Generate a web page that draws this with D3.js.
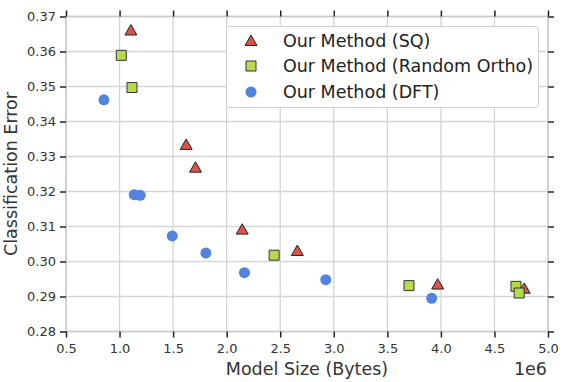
<!DOCTYPE html>
<html><head><meta charset="utf-8">
<script src="https://cdn.jsdelivr.net/npm/d3@7"></script>
<style>body{margin:0;background:#fff}text{font-family:"DejaVu Sans",sans-serif}</style>
</head><body><svg id="c" width="562" height="382"></svg>
<script>
const seriesNames = ["Our Method (SQ)", "Our Method (Random Ortho)", "Our Method (DFT)"];
const sqX = [1.106, 1.622, 1.709, 2.145, 2.660, 3.970, 4.778];
const sqY = [0.3660, 0.3333, 0.3268, 0.3091, 0.3030, 0.2934, 0.2922];
const roX = [1.016, 1.116, 2.443, 3.702, 4.701, 4.731];
const roY = [0.3589, 0.3497, 0.3018, 0.2931, 0.2929, 0.2910];
const dftX = [0.854, 1.137, 1.193, 1.492, 1.806, 2.166, 2.925, 3.914];
const dftY = [0.3462, 0.3191, 0.3189, 0.3073, 0.3024, 0.2968, 0.2948, 0.2895];
const xTicks = [0.5,1.0,1.5,2.0,2.5,3.0,3.5,4.0,4.5,5.0];
const yTicks = [0.28,0.29,0.30,0.31,0.32,0.33,0.34,0.35,0.36,0.37];

const svg = d3.select("#c");
const L=66, R=548, T=16.5, B=331.5;
const x = d3.scaleLinear().domain([0.5,5.0]).range([L,R]);
const y = d3.scaleLinear().domain([0.28,0.37]).range([B,T]);
const grid="#d5d5d5";
svg.append("g").selectAll("line").data(xTicks).join("line")
  .attr("x1",d=>x(d)).attr("x2",d=>x(d)).attr("y1",T).attr("y2",B).attr("stroke",grid).attr("stroke-width",1.3);
svg.append("g").selectAll("line").data(yTicks).join("line")
  .attr("y1",d=>y(d)).attr("y2",d=>y(d)).attr("x1",L).attr("x2",R).attr("stroke",grid).attr("stroke-width",1.3);
svg.append("rect").attr("x",L).attr("y",T).attr("width",R-L).attr("height",B-T).attr("fill","none").attr("stroke","#cccccc").attr("stroke-width",1.5);
const fmt1=d3.format(".1f"), fmt2=d3.format(".2f");
function styleAxis(g){g.select(".domain").remove();g.selectAll(".tick line").attr("stroke","#222").attr("stroke-width",1.5);
  g.selectAll(".tick text").attr("fill","#333").style("font-size","13px").style("font-family","DejaVu Sans");}
svg.append("g").attr("transform",`translate(0,${B})`).call(d3.axisBottom(x).tickValues(xTicks).tickFormat(fmt1).tickSize(6).tickPadding(6)).call(styleAxis);
svg.append("g").attr("transform",`translate(0,${T})`).call(d3.axisTop(x).tickValues(xTicks).tickFormat("").tickSize(6)).call(styleAxis);
svg.append("g").attr("transform",`translate(${L},0)`).call(d3.axisLeft(y).tickValues(yTicks).tickFormat(fmt2).tickSize(6).tickPadding(4)).call(styleAxis);
svg.append("g").attr("transform",`translate(${R},0)`).call(d3.axisRight(y).tickValues(yTicks).tickFormat("").tickSize(6)).call(styleAxis);
svg.append("text").attr("x",(L+R)/2).attr("y",375).attr("text-anchor","middle").attr("fill","#333").style("font-size","17.5px").text("Model Size (Bytes)");
svg.append("text").attr("x",547).attr("y",375).attr("text-anchor","end").attr("fill","#333").style("font-size","17.5px").text("1e6");
svg.append("text").attr("transform",`translate(16.5,${(T+B)/2}) rotate(-90)`).attr("text-anchor","middle").attr("fill","#333").style("font-size","17.5px").text("Classification Error");

const colors=["#dc5449","#b6da4c","#5283e0"];
const tri = d3.symbol().type(d3.symbolTriangle).size(62);
const sq = d3.symbol().type(d3.symbolSquare).size(100);
const pts=(xs,ys)=>xs.map((v,i)=>[v,ys[i]]);
svg.append("g").selectAll("path").data(pts(sqX,sqY)).join("path").attr("d",tri)
  .attr("transform",d=>`translate(${x(d[0])},${y(d[1])+1})`).attr("fill",colors[0]).attr("stroke","#222").attr("stroke-width",1);
svg.append("g").selectAll("path").data(pts(roX,roY)).join("path").attr("d",sq)
  .attr("transform",d=>`translate(${x(d[0])},${y(d[1])})`).attr("fill",colors[1]).attr("stroke","#333").attr("stroke-width",1);
svg.append("g").selectAll("circle").data(pts(dftX,dftY)).join("circle")
  .attr("cx",d=>x(d[0])).attr("cy",d=>y(d[1])).attr("r",5.5).attr("fill",colors[2]);
const lg=svg.append("g");
lg.append("rect").attr("x",226.5).attr("y",26.5).attr("width",312).attr("height",81).attr("rx",3).attr("fill","#fff").attr("stroke","#cfcfcf").attr("stroke-width",1);
const rows=[41,66,92];
lg.append("path").attr("d",tri).attr("transform",`translate(251,${rows[0]+1})`).attr("fill",colors[0]).attr("stroke","#222");
lg.append("path").attr("d",sq).attr("transform",`translate(251,${rows[1]})`).attr("fill",colors[1]).attr("stroke","#333");
lg.append("circle").attr("cx",251).attr("cy",rows[2]).attr("r",5.5).attr("fill",colors[2]);
lg.selectAll("text.l").data(seriesNames).join("text").attr("x",283).attr("y",(d,i)=>rows[i]+6)
  .attr("fill","#222").style("font-size","17.5px").text(d=>d);
</script></body></html>
